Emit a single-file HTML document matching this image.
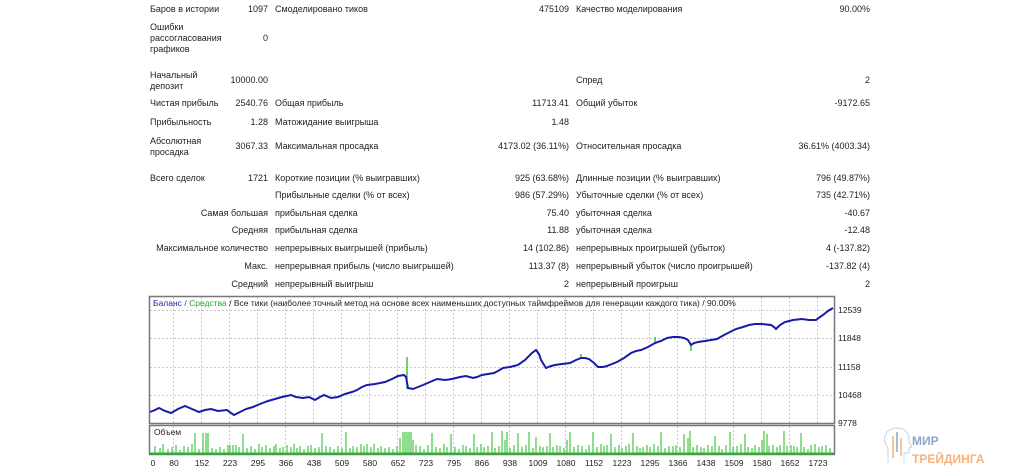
<!DOCTYPE html>
<html><head><meta charset="utf-8"><style>
body{margin:0;width:1024px;height:473px;background:#fff;position:relative;overflow:hidden;font-family:"Liberation Sans",sans-serif;font-size:9px;color:#222}
.t{position:absolute;white-space:nowrap;line-height:11px}
.r{text-align:right}
</style></head><body>
<div class="t" style="left:150px;top:4px">Баров в истории</div>
<div class="t r" style="left:200px;width:68px;top:4px">1097</div>
<div class="t" style="left:275px;top:4px">Смоделировано тиков</div>
<div class="t r" style="left:470px;width:99px;top:4px">475109</div>
<div class="t" style="left:576px;top:4px">Качество моделирования</div>
<div class="t r" style="left:770px;width:100px;top:4px">90.00%</div>

<div class="t" style="left:150px;top:22px">Ошибки<br>рассогласования<br>графиков</div>
<div class="t r" style="left:200px;width:68px;top:33px">0</div>

<div class="t" style="left:150px;top:70px">Начальный<br>депозит</div>
<div class="t r" style="left:200px;width:68px;top:75px">10000.00</div>
<div class="t" style="left:576px;top:75px">Спред</div>
<div class="t r" style="left:770px;width:100px;top:75px">2</div>

<div class="t" style="left:150px;top:98px">Чистая прибыль</div>
<div class="t r" style="left:200px;width:68px;top:98px">2540.76</div>
<div class="t" style="left:275px;top:98px">Общая прибыль</div>
<div class="t r" style="left:470px;width:99px;top:98px">11713.41</div>
<div class="t" style="left:576px;top:98px">Общий убыток</div>
<div class="t r" style="left:770px;width:100px;top:98px">-9172.65</div>

<div class="t" style="left:150px;top:117px">Прибыльность</div>
<div class="t r" style="left:200px;width:68px;top:117px">1.28</div>
<div class="t" style="left:275px;top:117px">Матожидание выигрыша</div>
<div class="t r" style="left:470px;width:99px;top:117px">1.48</div>

<div class="t" style="left:150px;top:136px">Абсолютная<br>просадка</div>
<div class="t r" style="left:200px;width:68px;top:141px">3067.33</div>
<div class="t" style="left:275px;top:141px">Максимальная просадка</div>
<div class="t r" style="left:420px;width:149px;top:141px">4173.02 (36.11%)</div>
<div class="t" style="left:576px;top:141px">Относительная просадка</div>
<div class="t r" style="left:720px;width:150px;top:141px">36.61% (4003.34)</div>

<div class="t" style="left:150px;top:173px">Всего сделок</div>
<div class="t r" style="left:200px;width:68px;top:173px">1721</div>
<div class="t" style="left:275px;top:173px">Короткие позиции (% выигравших)</div>
<div class="t r" style="left:420px;width:149px;top:173px">925 (63.68%)</div>
<div class="t" style="left:576px;top:173px">Длинные позиции (% выигравших)</div>
<div class="t r" style="left:720px;width:150px;top:173px">796 (49.87%)</div>

<div class="t" style="left:275px;top:190px">Прибыльные сделки (% от всех)</div>
<div class="t r" style="left:420px;width:149px;top:190px">986 (57.29%)</div>
<div class="t" style="left:576px;top:190px">Убыточные сделки (% от всех)</div>
<div class="t r" style="left:720px;width:150px;top:190px">735 (42.71%)</div>

<div class="t r" style="left:100px;width:168px;top:208px">Самая большая</div>
<div class="t" style="left:275px;top:208px">прибыльная сделка</div>
<div class="t r" style="left:420px;width:149px;top:208px">75.40</div>
<div class="t" style="left:576px;top:208px">убыточная сделка</div>
<div class="t r" style="left:720px;width:150px;top:208px">-40.67</div>

<div class="t r" style="left:100px;width:168px;top:225px">Средняя</div>
<div class="t" style="left:275px;top:225px">прибыльная сделка</div>
<div class="t r" style="left:420px;width:149px;top:225px">11.88</div>
<div class="t" style="left:576px;top:225px">убыточная сделка</div>
<div class="t r" style="left:720px;width:150px;top:225px">-12.48</div>

<div class="t r" style="left:100px;width:168px;top:243px">Максимальное количество</div>
<div class="t" style="left:275px;top:243px">непрерывных выигрышей (прибыль)</div>
<div class="t r" style="left:420px;width:149px;top:243px">14 (102.86)</div>
<div class="t" style="left:576px;top:243px">непрерывных проигрышей (убыток)</div>
<div class="t r" style="left:720px;width:150px;top:243px">4 (-137.82)</div>

<div class="t r" style="left:100px;width:168px;top:261px">Макс.</div>
<div class="t" style="left:275px;top:261px">непрерывная прибыль (число выигрышей)</div>
<div class="t r" style="left:420px;width:149px;top:261px">113.37 (8)</div>
<div class="t" style="left:576px;top:261px">непрерывный убыток (число проигрышей)</div>
<div class="t r" style="left:720px;width:150px;top:261px">-137.82 (4)</div>

<div class="t r" style="left:100px;width:168px;top:279px">Средний</div>
<div class="t" style="left:275px;top:279px">непрерывный выигрыш</div>
<div class="t r" style="left:420px;width:149px;top:279px">2</div>
<div class="t" style="left:576px;top:279px">непрерывный проигрыш</div>
<div class="t r" style="left:720px;width:150px;top:279px">2</div>

<svg style="position:absolute;left:0;top:0" width="1024" height="473" font-family="Liberation Sans, sans-serif" font-size="8.5">
<g stroke="#c8c8c8" stroke-dasharray="2,2" stroke-width="1">
<path d="M150 310.5H834M150 338.5H834M150 367.5H834M150 395.5H834"/>
<path d="M173.5 297V423M201.5 297V423M229.5 297V423M257.5 297V423M285.5 297V423M313.5 297V423M341.5 297V423M369.5 297V423M397.5 297V423M425.5 297V423M453.5 297V423M481.5 297V423M509.5 297V423M537.5 297V423M565.5 297V423M593.5 297V423M621.5 297V423M649.5 297V423M677.5 297V423M705.5 297V423M733.5 297V423M761.5 297V423M789.5 297V423M817.5 297V423"/>
<path d="M173.5 426V454M229.5 426V454M285.5 426V454M341.5 426V454M397.5 426V454M453.5 426V454M509.5 426V454M565.5 426V454M621.5 426V454M677.5 426V454M733.5 426V454M789.5 426V454"/>
</g>
<rect x="149.5" y="296.5" width="685" height="127" fill="none" stroke="#777" stroke-width="1.5"/>
<rect x="149.5" y="425.5" width="685" height="29" fill="none" stroke="#777" stroke-width="1.5"/>
<g stroke="#22bb22" stroke-width="1.3" fill="none">
<path d="M407 389V357M691 345V351M655 343V337M581 358V354"/>
</g>
<polyline fill="none" stroke="#1a1aaa" stroke-width="2" points="150,412 155,410 159,408 165,411 171,413 178,409 185,406 192,409 199,412 205,410 211,409 218,411 227,410 231,413 234,415 240,412 246,409 253,407 260,404 268,401 275,399 282,397 291,395 296,397 303,398 309,397 315,400 320,397 324,395 331,398 338,397 345,394 352,392 357,390 362,387 367,385 375,384 385,382 392,379 398,376 404,375 406,377 408,388 413,389 418,387 423,385 430,382 437,379 445,380 452,379 460,377 466,376 473,378 477,377 482,375 488,374 494,373 498,371 503,368 510,367 518,365 525,360 532,353 536,350 539,354 541,360 546,368 551,366 555,365 562,364 570,363 576,360 581,358 585,358 589,359 594,363 598,367 603,367 607,366 612,364 617,362 624,358 631,353 636,351 641,350 648,347 655,343 661,341 667,338 673,337 679,337 684,338 688,340 691,345 694,343 698,342 705,341 711,340 717,339 724,335 730,332 736,329 743,327 749,325 755,324 762,324 771,325 774,327 776,329 780,325 785,322 793,320 802,319 809,320 816,320 820,317 823,315 828,311 833,308"/>
<g stroke="#22bb22" stroke-width="1" fill="none">
<path d="M150 453.5H834" stroke-width="2"/>
<path d="M155 453V446M160 453V448M163 453V444M168 453V449M172 453V447M176 453V445M180 453V450M184 453V446M188 453V447M192 453V444M195 453V433M199 453V449M203 453V433M206 453V433M208 453V433M212 453V448M216 453V449M220 453V447M224 453V449M228 453V445M230 453V445M233 453V445M236 453V445M239 453V447M243 453V434M247 453V448M251 453V446M255 453V449M259 453V444M262 453V447M266 453V445M270 453V448M274 453V446M276 453V444M280 453V448M283 453V447M287 453V445M291 453V447M294 453V444M297 453V448M300 453V446M304 453V449M308 453V446M311 453V445M315 453V448M319 453V447M322 453V433M326 453V446M330 453V447M334 453V449M338 453V446M342 453V448M346 453V432M350 453V448M353 453V446M357 453V447M361 453V444M364 453V446M367 453V444M371 453V447M374 453V444M378 453V448M381 453V446M385 453V448M389 453V447M393 453V449M397 453V446M400 453V438M403 453V432M405 453V432M407 453V432M409 453V432M411 453V432M413 453V440M416 453V445M420 453V446M424 453V449M428 453V445M432 453V433M436 453V447M440 453V448M444 453V444M447 453V447M451 453V434M455 453V447M459 453V449M463 453V445M466 453V446M470 453V448M474 453V434M477 453V447M481 453V444M484 453V447M488 453V446M492 453V432M495 453V448M499 453V446M502 453V431M505 453V440M507 453V432M510 453V448M514 453V445M518 453V433M522 453V447M526 453V445M529 453V432M533 453V448M536 453V437M540 453V446M543 453V447M547 453V446M550 453V433M553 453V447M557 453V445M560 453V446M564 453V448M567 453V440M570 453V432M574 453V447M578 453V445M582 453V446M586 453V449M589 453V445M593 453V432M597 453V447M601 453V444M604 453V446M607 453V445M611 453V434M615 453V447M619 453V445M622 453V448M626 453V446M629 453V444M633 453V433M637 453V446M640 453V448M643 453V447M647 453V445M650 453V447M654 453V444M658 453V446M661 453V432M665 453V448M669 453V446M673 453V446M676 453V445M680 453V447M684 453V434M688 453V438M690 453V431M693 453V447M697 453V445M701 453V447M704 453V448M708 453V445M712 453V446M715 453V436M719 453V446M722 453V449M726 453V445M730 453V432M733 453V447M737 453V446M741 453V444M745 453V434M748 453V447M752 453V448M755 453V445M759 453V447M762 453V440M764 453V431M767 453V434M769 453V446M773 453V445M777 453V447M780 453V445M784 453V431M787 453V446M791 453V445M794 453V446M797 453V447M801 453V433M804 453V447M808 453V449M811 453V445M815 453V444M819 453V447M822 453V446M826 453V445M830 453V448"/>
</g>
<text x="153" y="306" fill="#2222bb">Баланс <tspan fill="#444">/</tspan> <tspan fill="#22aa22">Средства</tspan> <tspan fill="#222">/ Все тики (наиболее точный метод на основе всех наименьших доступных таймфреймов для генерации каждого тика) / 90.00%</tspan></text>
<text x="154" y="435" fill="#222">Объем</text>
<g fill="#222">
<text x="838" y="313">12539</text><text x="838" y="341">11848</text><text x="838" y="370">11158</text><text x="838" y="398">10468</text><text x="838" y="426">9778</text>
</g>
<g fill="#222" text-anchor="middle">
<text x="153" y="466">0</text><text x="174" y="466">80</text><text x="202" y="466">152</text><text x="230" y="466">223</text><text x="258" y="466">295</text><text x="286" y="466">366</text><text x="314" y="466">438</text><text x="342" y="466">509</text><text x="370" y="466">580</text><text x="398" y="466">652</text><text x="426" y="466">723</text><text x="454" y="466">795</text><text x="482" y="466">866</text><text x="510" y="466">938</text><text x="538" y="466">1009</text><text x="566" y="466">1080</text><text x="594" y="466">1152</text><text x="622" y="466">1223</text><text x="650" y="466">1295</text><text x="678" y="466">1366</text><text x="706" y="466">1438</text><text x="734" y="466">1509</text><text x="762" y="466">1580</text><text x="790" y="466">1652</text><text x="818" y="466">1723</text>
</g>
<path d="M888 463V448C882 440 884 430 895 428C905 427 910 434 909 442L912 447L909 448V453H904V463" fill="none" stroke="#c5d0e8" stroke-width="1"/>
<g stroke-width="1.5"><path d="M893 436V458" stroke="#f7b27a"/><path d="M897 432V452" stroke="#8ea3cc"/><path d="M901 438V456" stroke="#f7b27a"/></g>
<text x="912" y="445" fill="#8ea3cc" font-size="12" font-weight="bold">МИР</text>
<text x="912" y="463" fill="#f7b27a" font-size="12" font-weight="bold">ТРЕЙДИНГА</text>
</svg>
</body></html>
